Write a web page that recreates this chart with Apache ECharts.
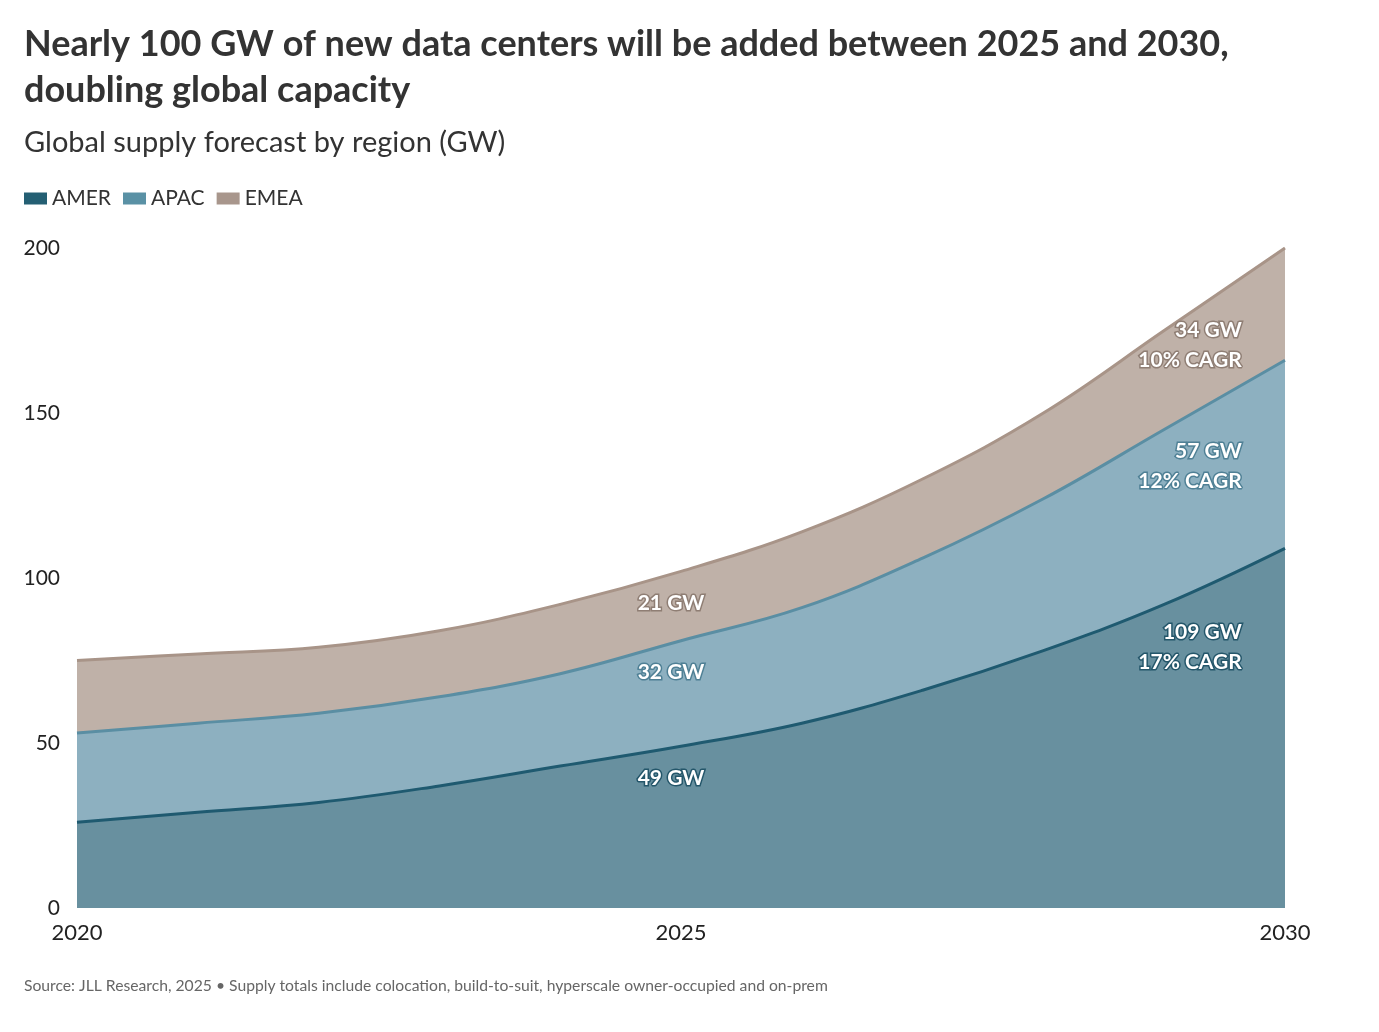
<!DOCTYPE html>
<html>
<head>
<meta charset="utf-8">
<script src="https://cdn.jsdelivr.net/npm/echarts@6/dist/echarts.min.js"></script>
<style>
  html, body { margin: 0; padding: 0; background: #fff; }
  #chart { width: 1379px; height: 1032px; }
</style>
</head>
<body>
<div id="chart"></div>
<script>
const years = ['2020', '2021', '2022', '2023', '2024', '2025', '2026', '2027', '2028', '2029', '2030'];
const amer = [26, 29, 32, 37, 43, 49, 56, 66, 78, 92, 109];
const apac = [27, 27, 27, 27, 28, 32, 35, 40, 46, 53, 57];
const emea = [22, 21, 20, 20, 21, 21, 23, 24, 26, 30, 34];
const shownYears = ['2020', '2025', '2030'];
const midLabels = { AMER: '49 GW', APAC: '32 GW', EMEA: '21 GW' };
const endLabels = {
    AMER: ['109 GW', '17% CAGR'],
    APAC: ['57 GW', '12% CAGR'],
    EMEA: ['34 GW', '10% CAGR']
};

const font = 'Lato, "Open Sans", sans-serif';

const styles = {
    AMER: { fill: '#68909f', line: '#1f5a70', legend: '#245f73', halo: '#24566a' },
    APAC: { fill: '#8db0c0', line: '#5a8ea3', legend: '#5a91a5', halo: '#4f8095' },
    EMEA: { fill: '#bfb1a8', line: '#a89488', legend: '#a8968c', halo: '#8f7e74' }
};

function labelStyle(name) {
    return {
        show: true,
        color: '#fff',
        fontFamily: font,
        fontWeight: 'bold',
        fontSize: 21,
        textBorderColor: styles[name].halo,
        textBorderWidth: 3
    };
}

// near-invisible point that only carries a text label
function labelled(v, label) {
    return {
        value: v,
        symbol: 'circle',
        symbolSize: 0.5,
        itemStyle: { color: 'rgba(0,0,0,0)', borderWidth: 0 },
        label: label
    };
}

function buildData(name, values) {
    return values.map((v, i) => {
        if (i === 5) {
            return labelled(v, Object.assign(labelStyle(name), {
                position: 'bottom',
                offset: [-10, 16],
                formatter: midLabels[name]
            }));
        }
        if (i === values.length - 1) {
            return labelled(v, Object.assign(labelStyle(name), {
                position: 'left',
                offset: [-38, name === 'EMEA' ? 97 : (name === 'APAC' ? 106 : 99)],
                align: 'right',
                lineHeight: 30,
                formatter: endLabels[name].join('\n')
            }));
        }
        return { value: v, symbol: 'none' };
    });
}

function makeSeries(name, values) {
    const st = styles[name];
    return {
        name: name,
        type: 'line',
        stack: 'total',
        smooth: 0.4,
        showSymbol: true,
        showAllSymbol: true,
        lineStyle: { color: st.line, width: 3 },
        areaStyle: { color: st.fill, opacity: 1 },
        itemStyle: { color: st.legend },
        emphasis: { disabled: true },
        data: buildData(name, values)
    };
}

const chart = echarts.init(document.getElementById('chart'));

const options = {
    backgroundColor: '#fff',
    animation: false,
    title: [
        {
            text: 'Nearly 100 GW of new data centers will be added between 2025 and 2030,\ndoubling global capacity',
            left: 19,
            top: 16,
            textStyle: {
                fontFamily: font,
                fontWeight: 'bold',
                fontSize: 36,
                lineHeight: 46,
                color: '#333'
            }
        },
        {
            text: 'Global supply forecast by region (GW)',
            left: 19,
            top: 123,
            textStyle: {
                fontFamily: font,
                fontWeight: 'normal',
                fontSize: 29,
                color: '#333'
            }
        },
        {
            text: 'Source: JLL Research, 2025 • Supply totals include colocation, build-to-suit, hyperscale owner-occupied and on-prem',
            left: 19,
            top: 973,
            textStyle: {
                fontFamily: font,
                fontWeight: 'normal',
                fontSize: 15.7,
                color: '#666'
            }
        }
    ],
    legend: {
        left: 19,
        top: 183,
        itemWidth: 23,
        itemHeight: 12,
        itemGap: 12,
        icon: 'rect',
        selectedMode: false,
        textStyle: { fontFamily: font, fontSize: 21, color: '#333' },
        data: ['AMER', 'APAC', 'EMEA']
    },
    grid: {
        left: 77,
        right: 94,
        top: 248,
        bottom: 124,
        containLabel: false
    },
    xAxis: {
        type: 'category',
        data: years,
        boundaryGap: false,
        axisLine: { show: false },
        axisTick: { show: false },
        axisLabel: {
            interval: 0,
            formatter: val => shownYears.includes(val) ? val : '',
            fontFamily: font,
            fontSize: 22,
            color: '#222',
            margin: 14
        }
    },
    yAxis: {
        type: 'value',
        min: 0,
        max: 200,
        interval: 50,
        splitLine: { show: false },
        axisLine: { show: false },
        axisTick: { show: false },
        axisLabel: {
            fontFamily: font,
            fontSize: 21,
            color: '#222',
            margin: 17
        }
    },
    series: [
        makeSeries('AMER', amer),
        makeSeries('APAC', apac),
        makeSeries('EMEA', emea)
    ]
};

chart.setOption(options);
window.addEventListener('resize', () => chart.resize());
</script>
</body>
</html>
